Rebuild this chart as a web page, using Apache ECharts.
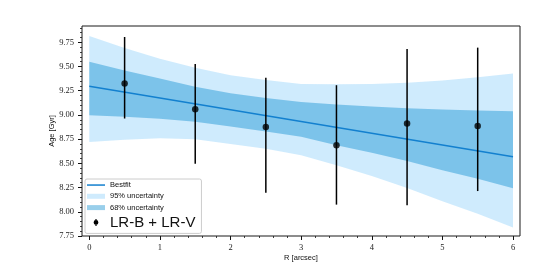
<!DOCTYPE html>
<html>
<head>
<meta charset="utf-8">
<script src="https://cdn.jsdelivr.net/npm/echarts@6/dist/echarts.min.js"></script>
<style>html,body{margin:0;padding:0;background:#fff}#c{width:548px;height:263px}</style>
</head>
<body>
<div id="c"></div>
<script>
// ---- data ----
const radius   = [0.5, 1.5, 2.5, 3.5, 4.5, 5.5];
const age      = [9.325, 9.059, 8.875, 8.686, 8.911, 8.887];
const ageHi    = [9.805, 9.525, 9.383, 9.307, 9.680, 9.695];
const ageLo    = [8.963, 8.496, 8.196, 8.074, 8.068, 8.214];

const bandX    = [0, 0.5, 1, 1.5, 2, 2.5, 3, 3.5, 4, 4.5, 5, 5.5, 6];
const band95Hi = [9.815, 9.69, 9.58, 9.487, 9.41, 9.36, 9.32, 9.318, 9.32, 9.333, 9.355, 9.39, 9.429];
const band95Lo = [8.72, 8.745, 8.76, 8.75, 8.70, 8.65, 8.585, 8.48, 8.37, 8.245, 8.11, 7.98, 7.839];
const band68Hi = [9.549, 9.46, 9.375, 9.29, 9.225, 9.175, 9.133, 9.108, 9.088, 9.068, 9.055, 9.045, 9.038];
const band68Lo = [8.997, 8.98, 8.96, 8.93, 8.88, 8.83, 8.775, 8.686, 8.61, 8.525, 8.43, 8.34, 8.243];

const fitX     = [0, 6];
const fitY     = [9.297, 8.569];

const xTickMin = 0, xTickMax = 6, xTickStep = 1;
const yTickMin = 7.75, yTickMax = 9.75, yTickStep = 0.25;
const yMinorTop = 9.90;

// ---- layout ----
const W = 548, H = 263;
const FL = 82, FR = 520, FT = 26, FB = 236;      // frame
const PX0 = 89.3, PX6 = 513;                      // pixel of x=0 and x=6
const PY975 = 42.3, PY775 = 236;                  // pixel of y=9.75 and y=7.75
const sx = (PX6 - PX0) / (xTickMax - xTickMin);
const sy = (PY775 - PY975) / (yTickMax - yTickMin);
const xMin = xTickMin - (PX0 - FL) / sx;
const xMax = xTickMax + (FR - PX6) / sx;
const yMax = yTickMax + (PY975 - FT) / sy;
const yMin = yTickMin - (FB - PY775) / sy;
const pyMinorTop = PY975 - (yMinorTop - yTickMax) * sy;

const C95 = 'rgba(135,206,250,0.4)';
const C68 = 'rgba(0,136,205,0.4)';
const CLINE = '#1380cf';
const serif = '"Liberation Serif", "DejaVu Serif", serif';
const sans = '"Liberation Sans", "DejaVu Sans", sans-serif';

function bandSeries(name, hi, lo, color) {
  return {
    type: 'custom', name: name, xAxisIndex: 0, yAxisIndex: 0, clip: true,
    itemStyle: { color: color },
    data: [[0]],
    renderItem: function (params, api) {
      const pts = [];
      for (let i = 0; i < bandX.length; i++) pts.push(api.coord([bandX[i], hi[i]]));
      for (let i = bandX.length - 1; i >= 0; i--) pts.push(api.coord([bandX[i], lo[i]]));
      return { type: 'polygon', shape: { points: pts }, style: { fill: color, stroke: null } };
    }
  };
}

const hidden = { show: false };
const chart = echarts.init(document.getElementById('c'), null, { renderer: 'canvas', width: W, height: H });

function gridBox(l, r, t, b, extra) {
  return Object.assign({ left: l, right: W - r, top: t, bottom: H - b, containLabel: false, outerBoundsMode: 'none', show: false }, extra || {});
}

chart.setOption({
  animation: false,
  backgroundColor: '#fff',
  grid: [
    gridBox(FL, FR, FT, FB, { show: true, borderColor: '#1a1a1a', borderWidth: 1, backgroundColor: 'transparent', z: 10 }),
    gridBox(PX0, PX6, FT, FB),
    gridBox(FL, FR, PY975, PY775),
    gridBox(FL, FR, pyMinorTop, PY975)
  ],
  xAxis: [
    { gridIndex: 0, type: 'value', min: xMin, max: xMax, axisLine: hidden, axisTick: hidden, axisLabel: hidden, splitLine: hidden,
      name: 'R [arcsec]', nameLocation: 'middle', nameGap: 18,
      nameTextStyle: { fontFamily: sans, fontSize: 7.5, color: '#111' } },
    { gridIndex: 1, type: 'value', min: xTickMin, max: xTickMax, interval: xTickStep,
      axisLine: hidden, splitLine: hidden,
      axisTick: { show: true, inside: false, length: 4, lineStyle: { color: '#111', width: 1 } },
      minorTick: { show: true, splitNumber: 5, length: 2, lineStyle: { color: '#111', width: 0.8 } },
      axisLabel: { show: true, margin: 7, fontFamily: serif, fontSize: 8.5, color: '#222' } },
    { gridIndex: 2, type: 'value', show: false, min: 0, max: 1 },
    { gridIndex: 3, type: 'value', show: false, min: 0, max: 1 }
  ],
  yAxis: [
    { gridIndex: 0, type: 'value', min: yMin, max: yMax, axisLine: hidden, axisTick: hidden, axisLabel: hidden, splitLine: hidden,
      name: 'Age [Gyr]', nameLocation: 'middle', nameGap: 26, nameRotate: 90,
      nameTextStyle: { fontFamily: sans, fontSize: 7.5, color: '#111' } },
    { gridIndex: 1, type: 'value', show: false, min: 0, max: 1 },
    { gridIndex: 2, type: 'value', min: yTickMin, max: yTickMax, interval: yTickStep,
      axisLine: hidden, splitLine: hidden,
      axisTick: { show: true, inside: false, length: 4, lineStyle: { color: '#111', width: 1 } },
      minorTick: { show: true, splitNumber: 5, length: 2, lineStyle: { color: '#111', width: 0.8 } },
      axisLabel: { show: true, margin: 8, fontFamily: serif, fontSize: 8.5, color: '#222',
                   formatter: function (v) { return v.toFixed(2); } } },
    { gridIndex: 3, type: 'value', min: yTickMax, max: yMinorTop, interval: 0.05,
      axisLine: hidden, splitLine: hidden, axisLabel: hidden,
      axisTick: { show: true, inside: false, length: 2, lineStyle: { color: '#111', width: 0.8 } } }
  ],
  legend: {
    left: 85, top: 179, orient: 'vertical', selectedMode: false,
    padding: [1.5, 6, 3, 2], itemGap: 2.3, itemWidth: 18, itemHeight: 7,
    backgroundColor: 'rgba(255,255,255,0.8)', borderColor: '#cccccc', borderWidth: 1, borderRadius: 2,
    textStyle: { fontFamily: sans, fontSize: 7.5, lineHeight: 9, color: '#111',
                 rich: { big: { fontFamily: sans, fontSize: 15, lineHeight: 16, color: '#111' } } },
    formatter: function (n) { return n === 'LR-B + LR-V' ? '{big|' + n + '}' : n; },
    data: [
      { name: 'Bestfit', icon: 'path://M0,0M0,2.8H18V4.3H0ZM18,7' },
      { name: '95% uncertainty', icon: 'path://M0,0M0,1H18V6H0ZM18,7' },
      { name: '68% uncertainty', icon: 'path://M0,0M0,1H18V6H0ZM18,7' },
      { name: 'LR-B + LR-V', icon: 'path://M0,0M8.4,0H9.6V7H8.4ZM11.4,3.5A2.4,2.4,0,1,1,6.6,3.5A2.4,2.4,0,1,1,11.4,3.5ZM18,7', itemStyle: { color: '#000' } }
    ]
  },
  series: [
    bandSeries('95% uncertainty', band95Hi, band95Lo, C95),
    bandSeries('68% uncertainty', band68Hi, band68Lo, C68),
    { type: 'line', name: 'Bestfit', xAxisIndex: 0, yAxisIndex: 0, showSymbol: false, symbol: 'none',
      data: fitX.map(function (x, i) { return [x, fitY[i]]; }),
      lineStyle: { color: CLINE, width: 1.5 }, itemStyle: { color: CLINE }, z: 3 },
    { type: 'custom', name: 'LR-B + LR-V', xAxisIndex: 0, yAxisIndex: 0, z: 4,
      itemStyle: { color: '#000' },
      data: radius.map(function (x, i) { return [x, ageLo[i], ageHi[i]]; }),
      renderItem: function (params, api) {
        const a = api.coord([api.value(0), api.value(1)]);
        const b = api.coord([api.value(0), api.value(2)]);
        return { type: 'line', shape: { x1: a[0], y1: a[1], x2: b[0], y2: b[1] },
                 style: { stroke: '#000', lineWidth: 1.5 } };
      } },
    { type: 'scatter', name: 'LR-B + LR-V', xAxisIndex: 0, yAxisIndex: 0, z: 5,
      symbol: 'circle', symbolSize: 6.5,
      data: radius.map(function (x, i) { return [x, age[i]]; }),
      itemStyle: { color: '#000' } }
  ]
});
</script>
</body>
</html>
